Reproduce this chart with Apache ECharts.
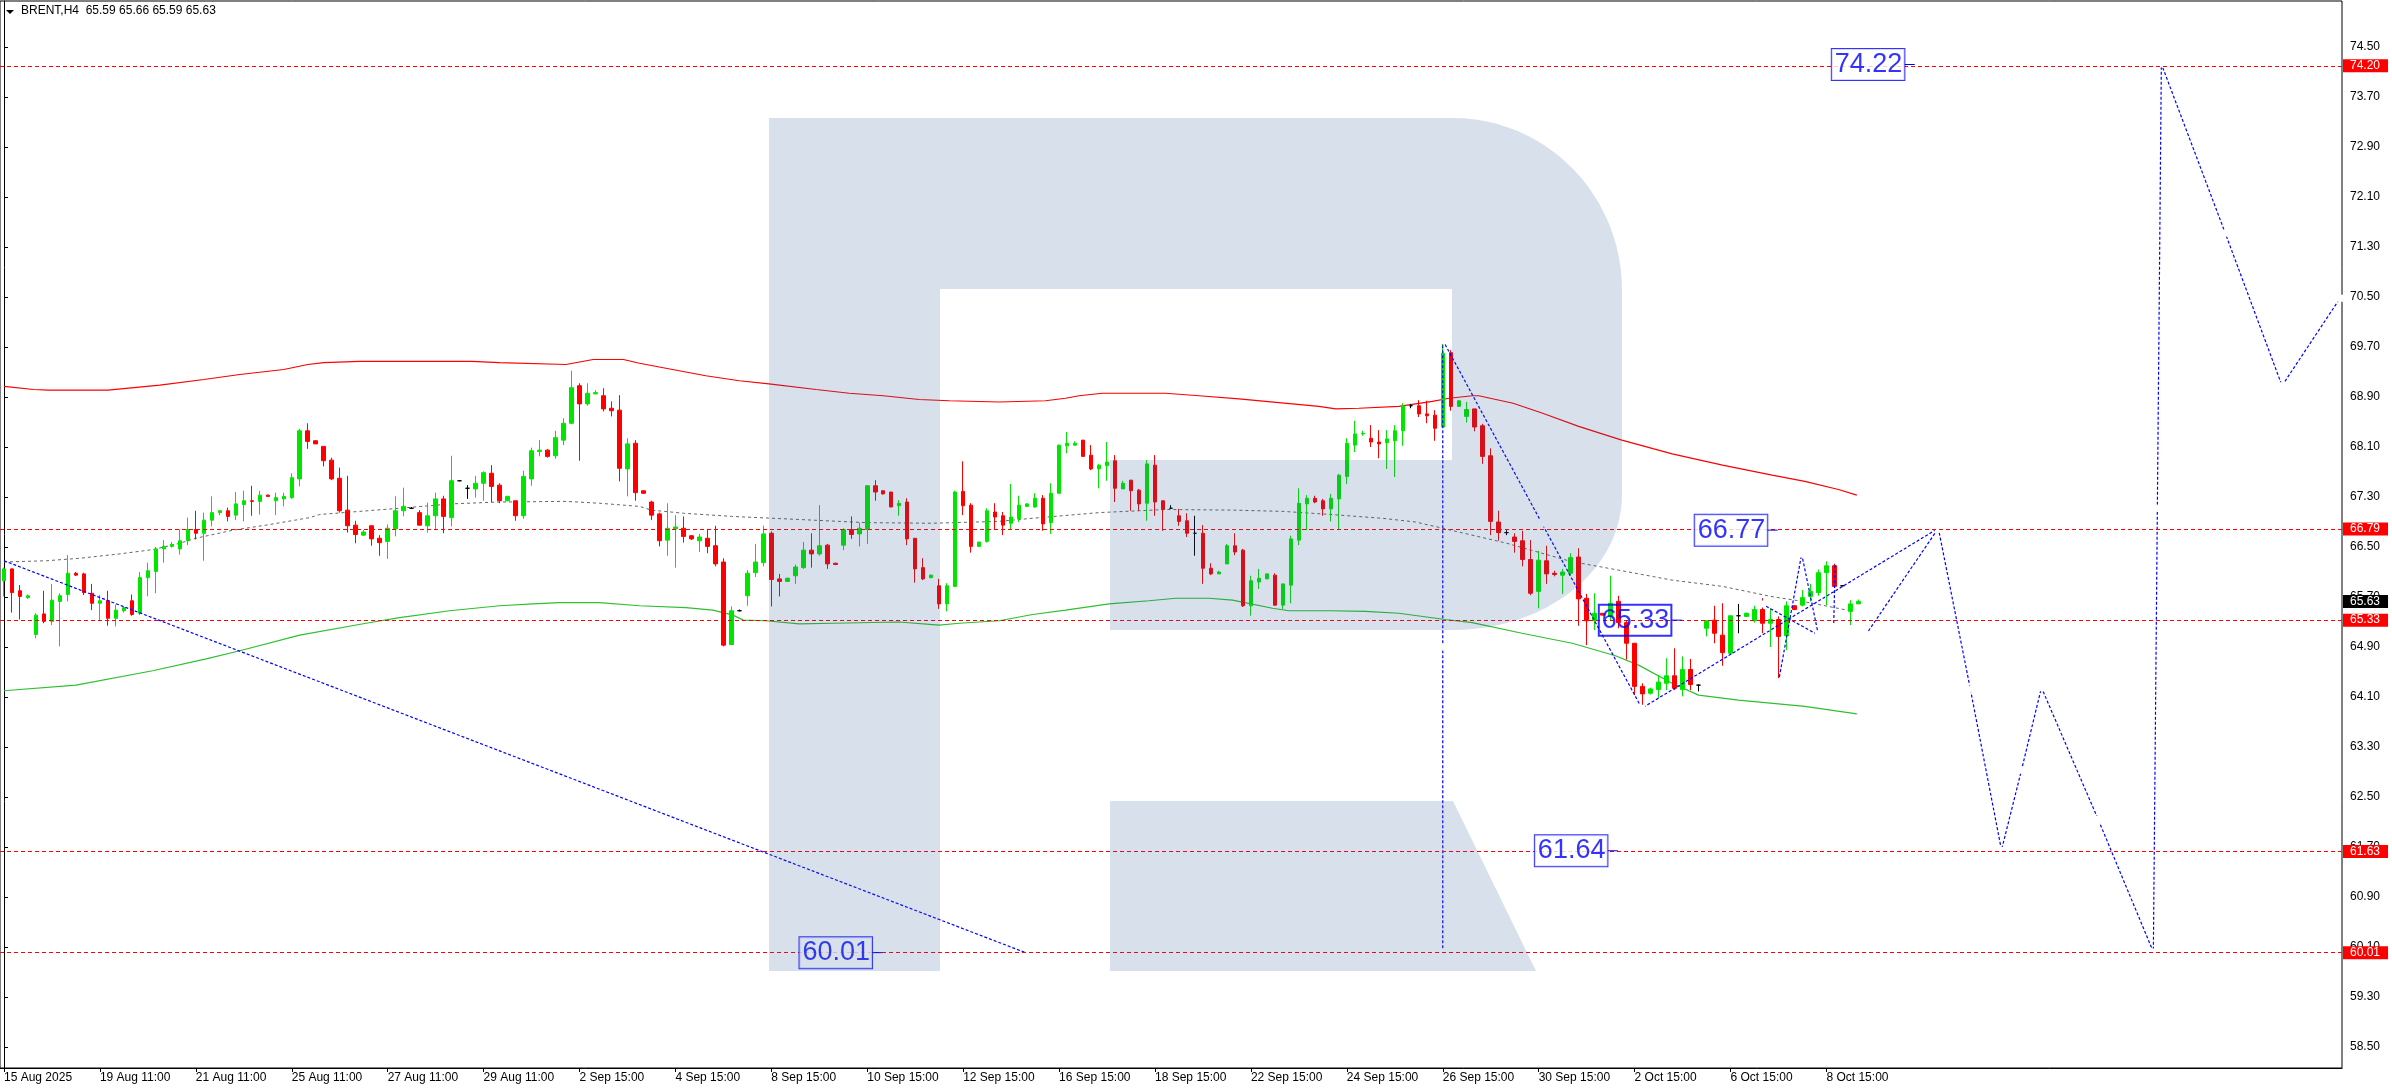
<!DOCTYPE html>
<html><head><meta charset="utf-8">
<script src="https://cdn.jsdelivr.net/npm/echarts@6/dist/echarts.min.js"></script>
<style>html,body{margin:0;padding:0;background:#fff}#c{width:2392px;height:1090px}</style>
</head><body><div id="c"></div>
<script>
// ---------- data ----------
const tickLabels = ["15 Aug 2025","19 Aug 11:00","21 Aug 11:00","25 Aug 11:00","27 Aug 11:00","29 Aug 11:00","2 Sep 15:00","4 Sep 15:00","8 Sep 15:00","10 Sep 15:00","12 Sep 15:00","16 Sep 15:00","18 Sep 15:00","22 Sep 15:00","24 Sep 15:00","26 Sep 15:00","30 Sep 15:00","2 Oct 15:00","6 Oct 15:00","8 Oct 15:00"];
const yTicks = [58.5,59.3,60.1,60.9,61.7,62.5,63.3,64.1,64.9,65.7,66.5,67.3,68.1,68.9,69.7,70.5,71.3,72.1,72.9,73.7,74.5];

const opens = [65.96,66.15,65.80,65.69,65.10,65.43,65.31,65.63,65.74,66.08,66.07,65.76,65.60,65.64,65.36,65.48,65.64,65.44,66.01,66.11,
66.47,66.51,66.47,66.60,66.78,66.72,66.93,67.05,67.08,67.01,67.18,67.24,67.23,67.33,67.24,67.27,67.29,67.59,68.36,68.20,
68.11,67.89,67.60,67.09,66.85,66.69,66.84,66.64,66.59,66.79,67.08,67.12,67.05,66.84,67.00,67.27,66.97,67.56,67.44,67.43,
67.52,67.68,67.49,67.24,67.24,67.00,67.59,68.03,68.05,67.96,68.21,68.48,69.08,68.79,68.95,68.92,68.72,68.69,67.75,68.16,
67.40,67.22,67.03,66.61,66.79,66.80,66.68,66.60,66.64,66.52,66.26,64.94,65.48,65.72,66.09,66.25,66.72,65.99,65.95,66.04,
66.17,66.45,66.39,66.53,66.24,66.53,66.78,66.71,66.78,67.48,67.40,67.38,67.16,67.22,66.64,66.17,66.01,65.88,65.59,65.87,
67.39,67.17,66.51,66.59,67.06,67.00,66.88,66.95,67.15,67.14,67.28,66.89,67.36,68.12,68.13,68.21,67.97,67.75,67.80,67.88,
67.43,67.57,67.41,67.20,67.81,67.24,67.12,67.00,66.92,66.72,66.72,66.16,66.07,66.23,66.52,66.45,65.56,65.94,65.99,66.05,
65.57,65.89,66.61,67.19,67.28,67.24,67.11,67.27,67.63,68.13,68.31,68.24,68.18,68.17,68.20,68.36,68.76,68.76,68.63,68.61,
68.42,69.61,68.75,68.59,68.71,68.44,67.96,66.90,66.73,66.66,66.60,66.30,65.79,66.28,66.08,66.05,66.08,66.34,65.68,65.32,
65.44,65.39,65.63,65.29,64.96,64.27,64.16,64.22,64.32,64.44,64.22,64.54,64.29,65.20,65.33,65.09,64.80,65.40,65.39,65.32,
65.50,65.28,65.34,65.08,65.56,65.57,65.71,65.77,66.09,66.20,65.88,65.47,65.59];
const closes = [66.15,65.77,65.71,65.72,65.41,65.31,65.65,65.72,66.08,66.05,65.77,65.60,65.64,65.36,65.49,65.53,65.42,66.01,66.12,66.47,
66.51,66.54,66.60,66.78,66.72,66.93,67.05,67.08,66.99,67.19,67.24,67.23,67.33,67.31,67.29,67.31,67.61,68.36,68.19,68.15,
67.88,67.59,67.08,66.84,66.70,66.74,66.63,66.57,66.80,67.08,67.15,67.12,66.85,67.00,67.27,66.99,67.56,67.56,67.44,67.52,
67.69,67.47,67.24,67.31,67.00,67.63,68.04,68.05,67.95,68.25,68.48,69.05,68.79,68.96,68.97,68.71,68.68,67.76,68.15,67.37,
67.36,67.01,66.60,66.80,66.82,66.67,66.63,66.66,66.51,66.23,64.93,65.48,65.48,66.08,66.26,66.71,65.98,65.95,66.00,66.18,
66.45,66.39,66.52,66.23,66.22,66.78,66.70,66.80,67.48,67.38,67.35,67.14,67.20,66.63,66.15,65.99,66.05,65.59,65.88,67.38,
67.16,66.51,66.58,67.08,66.98,66.85,66.98,67.17,67.19,67.28,66.87,67.36,68.13,68.16,68.16,67.95,67.75,67.81,67.86,67.44,
67.52,67.40,67.19,67.83,67.22,67.10,67.12,66.91,66.72,66.72,66.16,66.07,66.10,66.52,66.42,65.56,65.96,66.00,66.07,65.57,
65.91,66.63,67.20,67.28,67.22,67.11,67.28,67.65,68.16,68.31,68.32,68.18,68.15,68.23,68.36,68.76,68.76,68.63,68.60,68.40,
69.60,68.75,68.84,68.70,68.42,67.95,66.91,66.73,66.73,66.59,66.30,65.76,66.29,66.07,66.06,66.10,66.33,65.67,65.32,65.44,
65.41,65.60,65.29,64.96,64.27,64.15,64.23,64.34,64.44,64.24,64.54,64.30,64.29,65.32,65.12,64.81,65.40,65.40,65.44,65.50,
65.28,65.34,65.07,65.56,65.50,65.69,65.79,66.09,66.20,65.87,65.88,65.59,65.63];
const lows = [65.71,65.45,65.34,65.67,65.04,65.28,65.25,64.91,65.63,66.04,65.73,65.49,65.32,65.24,65.23,65.45,65.40,65.41,65.71,65.76,
66.25,66.49,66.38,66.53,66.62,66.28,66.83,67.01,66.91,66.93,66.91,67.00,67.02,67.30,67.01,67.15,67.27,67.47,68.07,68.15,
67.79,67.57,67.05,66.73,66.56,66.68,66.52,66.36,66.31,66.67,66.99,67.11,66.84,66.73,66.77,66.72,66.83,67.55,67.27,67.29,
67.24,67.22,67.20,67.23,66.92,66.95,67.48,67.95,67.93,67.91,68.13,68.47,67.88,68.76,68.95,68.67,68.59,67.55,67.31,67.24,
67.35,66.93,66.51,66.36,66.17,66.57,66.61,66.42,66.40,66.19,64.91,64.93,65.47,65.56,66.02,66.19,65.55,65.71,65.94,65.91,
66.15,66.17,66.36,66.15,66.21,66.45,66.63,66.51,66.55,67.24,67.34,67.14,67.00,66.53,65.93,65.97,66.00,65.51,65.47,65.86,
67.01,66.41,66.50,66.57,66.78,66.69,66.78,66.90,67.14,67.13,66.76,66.71,67.35,68.00,68.12,67.95,67.73,67.44,67.56,67.22,
67.43,67.08,67.08,66.92,67.00,66.76,67.11,66.84,66.66,66.36,65.91,66.05,66.07,66.23,66.37,65.54,65.40,65.83,65.99,65.56,
65.51,65.60,66.53,66.77,67.20,67.00,66.91,66.77,67.51,68.02,68.28,68.10,67.92,67.75,67.62,68.12,68.72,68.58,68.48,68.20,
68.41,68.68,68.75,68.49,68.35,67.83,66.69,66.60,66.69,66.41,66.19,65.73,65.52,65.91,66.03,65.75,66.05,65.24,64.93,65.17,
65.41,65.32,65.20,64.70,64.13,63.97,64.14,64.08,64.21,64.21,64.11,64.21,64.19,65.07,64.96,64.60,64.79,65.12,65.38,65.29,
65.12,64.90,64.40,64.85,65.49,65.55,65.63,65.72,65.57,65.86,65.87,65.25,65.59];
const highs = [66.17,66.16,65.89,65.74,65.44,65.80,65.91,65.76,66.37,66.10,66.09,65.91,65.73,65.80,65.58,65.55,65.74,66.10,66.25,66.50,
66.61,66.58,66.78,66.97,67.08,67.05,67.31,67.09,67.13,67.38,67.40,67.48,67.40,67.34,67.37,67.37,67.68,68.39,68.48,68.21,
68.11,67.93,67.77,67.64,66.92,66.77,66.84,66.69,66.86,67.31,67.45,67.14,67.09,67.21,67.37,67.32,67.96,67.57,67.49,67.64,
67.71,67.81,67.52,67.32,67.24,67.72,68.09,68.21,68.07,68.36,68.56,69.32,69.12,69.12,69.01,69.04,68.83,68.93,68.24,68.21,
67.40,67.24,67.05,67.20,67.01,66.99,66.69,66.71,66.79,66.84,66.32,65.55,65.50,66.13,66.55,66.84,66.75,66.07,66.01,66.22,
66.58,66.72,67.17,66.55,66.25,66.80,66.99,66.89,67.49,67.57,67.41,67.38,67.25,67.28,66.64,66.32,66.06,65.99,65.92,67.40,
67.87,67.20,66.58,67.12,67.20,67.06,67.51,67.32,67.20,67.36,67.33,67.52,68.14,68.34,68.19,68.21,68.13,67.83,68.18,67.97,
67.56,67.57,67.43,67.89,67.97,67.24,67.17,67.11,67.04,67.00,66.85,66.24,66.12,66.55,66.72,66.47,66.04,66.15,66.07,66.08,
65.91,66.68,67.44,67.33,67.32,67.27,67.35,67.67,68.24,68.52,68.36,68.45,68.37,68.37,68.45,68.80,68.79,68.85,68.84,68.69,
69.80,69.65,68.84,68.82,68.71,68.47,68.08,67.08,66.77,66.72,66.76,66.61,66.44,66.52,66.12,66.15,66.40,66.48,65.75,65.76,
65.44,66.04,65.72,65.33,64.96,64.32,64.25,64.45,64.72,64.88,64.75,64.71,64.30,65.33,65.56,65.60,65.40,65.59,65.45,65.56,
65.68,65.52,65.39,65.63,65.57,65.81,65.91,66.14,66.27,66.27,65.89,65.65,65.66];

// envelope lines, [bar index, price]
const upperBand = [[0,69.07],[3.7,69.02],[5.5,69.01],[13,69.01],[19.5,69.09],[25,69.18],[29.5,69.26],[35,69.34],[38,69.42],[40,69.45],[44.5,69.47],[58.5,69.47],[62,69.45],[70.3,69.42],[73.7,69.50],[77.5,69.50],[79.5,69.44],[82.8,69.36],[87.8,69.24],[92,69.16],[95.7,69.11],[101.6,69.02],[105.75,68.96],[110,68.92],[114.5,68.86],[118.25,68.84],[124.5,68.82],[130.3,68.84],[132.8,68.88],[134.5,68.92],[137.4,68.96],[145.3,68.96],[149.5,68.92],[154.5,68.87],[159.5,68.81],[164.5,68.75],[166.6,68.71],[169.5,68.72],[174.5,68.75],[178.7,68.83],[180.8,68.88],[183.7,68.92],[184.5,68.92],[188.8,68.80],[192.5,68.64],[197,68.43],[202.4,68.21],[208.7,67.99],[215,67.81],[221.2,67.65],[225.3,67.55],[229.5,67.42],[231.8,67.33]];
const middleBand = [[0,66.26],[5.3,66.28],[9.5,66.32],[14.5,66.39],[18.7,66.46],[22,66.56],[24,66.64],[28.7,66.77],[32.8,66.85],[38.25,66.97],[39.5,67.02],[44.5,67.07],[49.5,67.12],[56,67.19],[62,67.22],[70.3,67.23],[74.5,67.20],[79.5,67.15],[81,67.09],[85,67.04],[91,66.99],[99.5,66.94],[107.8,66.89],[116,66.88],[124.5,66.91],[128.7,66.96],[137,67.05],[145.3,67.10],[153.8,67.09],[160,67.07],[166,67.02],[172.4,66.96],[176.6,66.90],[180,66.80],[188,66.56],[196,66.27],[202,66.13],[208.7,65.97],[215,65.87],[221,65.71],[225,65.63],[231,65.48]];
const lowerBand = [[0,64.20],[9,64.29],[18.6,64.52],[25.3,64.71],[29.5,64.84],[37,65.09],[45.3,65.28],[49.5,65.37],[55.75,65.48],[62,65.56],[66.2,65.59],[69.5,65.61],[74.5,65.61],[79.5,65.56],[85.3,65.53],[88.7,65.49],[91.2,65.41],[92.5,65.33],[95.3,65.32],[99.5,65.27],[103.7,65.28],[112,65.30],[117,65.25],[119.5,65.28],[124.5,65.32],[128.7,65.42],[132.8,65.49],[138.25,65.59],[143.25,65.64],[146.6,65.68],[150.75,65.68],[153.7,65.65],[158.7,65.52],[160.75,65.48],[166,65.48],[170.3,65.47],[174.5,65.44],[180.3,65.34],[183.7,65.29],[189.9,65.12],[196.2,64.96],[201.6,64.76],[204.5,64.61],[208.7,64.32],[212,64.13],[217,64.05],[225.3,63.95],[231.8,63.83]];

// horizontal levels and price tags
const levels = [74.20, 66.79, 65.33, 61.63, 60.01];
const lastPrice = 65.63;

// forecast paths, [bar index, price]
const forecastLong = [[0,66.28],[127.8,60.01]];
const forecastVertical = [[180,69.81],[180,64.90],[180,60.02]];
const forecastMain = [[180,69.81],[192.4,66.88],[204.9,63.92],[242,66.80],[246,64.23],[249.9,61.65],[252.4,62.93],[254.9,64.25],[262,62.14],[268.9,60.02],[269.4,67.12],[269.9,74.23],[277.9,71.52],[285,69.08],[292.25,70.48]];
const forecastAlt = [[232.9,65.09],[242,66.80]];
const forecastZig1 = [[219.9,65.59],[227,65.09]];
const forecastZig2 = [[222,64.34],[224.9,66.39],[227,65.09]];
const forecastZig3 = [[229.1,66.29],[228.9,65.20]];

// annotation boxes: [bar index of box right edge, price, text]
const boxIdx = [237.75, 220.6, 208.6, 200.6, 108.6];
const boxVal = [74.22, 66.77, 65.33, 61.64, 60.01];
const boxText = ["74.22","66.77","65.33","61.64","60.01"];
const boxOpaque = [true, true, false, true, true];

// ---------- chart ----------
const NCAT = 293;
const cats = Array.from({length: NCAT}, (_, i) => String(i));
const candleData = opens.map((o, i) => {
  const d = [o, closes[i], lows[i], highs[i]];
  if (o === closes[i]) return {value: d, itemStyle: {color:'#000', color0:'#000', borderColor:'#000', borderColor0:'#000'}};
  return d;
});
const blue = '#0000ff';
const FONT = 'Liberation Sans';
function fLine(data, marks) {
  return {type:'line', xAxisIndex:1, yAxisIndex:0, data: data, silent:true, z:4,
    symbol: marks ? 'emptyRect' : 'none', symbolSize: 5, showSymbol: !!marks,
    itemStyle:{color:'#fff', borderColor: blue, borderWidth:1},
    lineStyle:{color: blue, width:1.2, type:[3,2]}, animation:false};
}
const series = [];
series.push({
  type:'candlestick', xAxisIndex:0, yAxisIndex:0, data: candleData, barWidth:4, z:3,
  itemStyle:{color:'#00e600', color0:'#ff0000', borderColor:'#00e600', borderColor0:'#ff0000', borderWidth:1},
  animation:false, silent:true,
  markLine:{
    silent:true, symbol:['none','none'], animation:false,
    lineStyle:{color:'#ff0000', width:1, type:[4,3]},
    label:{show:true, position:'end', distance:1, formatter:(p)=>p.value.toFixed(2),
      backgroundColor:'#ff0000', color:'#fff', fontFamily:FONT, fontSize:12, lineHeight:12, padding:[1,8,0,7]},
    data: levels.map(v => ({yAxis:v})).concat([{yAxis:lastPrice, lineStyle:{width:0, color:'rgba(0,0,0,0)'},
      label:{backgroundColor:'#000'}}])
  }
});
series.push({type:'line', xAxisIndex:1, data:upperBand, showSymbol:false, symbol:'none', silent:true, z:2, lineStyle:{color:'#ff0000', width:1.2}, animation:false});
series.push({type:'line', xAxisIndex:1, data:middleBand, showSymbol:false, symbol:'none', silent:true, z:2, lineStyle:{color:'#666', width:1, type:[3,3]}, animation:false});
series.push({type:'line', xAxisIndex:1, data:lowerBand, showSymbol:false, symbol:'none', silent:true, z:2, lineStyle:{color:'#2fbf2f', width:1.2}, animation:false});
series.push(fLine(forecastLong, false));
series.push(fLine(forecastVertical, true));
series.push(fLine(forecastMain, true));
series.push(fLine(forecastAlt, true));
series.push(fLine(forecastZig1, true));
series.push(fLine(forecastZig2, true));
series.push(fLine(forecastZig3, true));
series.push({type:'scatter', xAxisIndex:1, yAxisIndex:0, symbolSize:0, silent:true, z:5, animation:false,
  data: boxIdx.map((x, k) => ({value:[x, boxVal[k]], name: boxText[k],
    label: boxOpaque[k] ? undefined : {backgroundColor:'transparent'}})),
  label:{show:true, position:'left', distance:0, formatter:(p)=>p.name,
    color: blue, fontFamily: FONT, fontSize:27, lineHeight:29,
    backgroundColor:'#ffffff', borderColor: blue, borderWidth:1, padding:[2,2,0,3]}});
boxIdx.forEach((x, k) => {
  series.push({type:'line', xAxisIndex:1, data:[[x, boxVal[k]], [x + 1.3, boxVal[k]]], symbol:'none', silent:true, z:5,
    lineStyle:{color: blue, width:1}, animation:false});
});

// watermark "R" outline (decoration)
function arcPts(cx, cy, rx, ry, a0, a1, n) {
  const out = [];
  for (let k = 0; k <= n; k++) { const a = a0 + (a1 - a0) * k / n; out.push([cx + rx * Math.cos(a), cy + ry * Math.sin(a)]); }
  return out;
}
const bowl = [[940,118],[1453,118]]
  .concat(arcPts(1453, 290, 169, 172, -Math.PI/2, 0, 24))
  .concat(arcPts(1453, 495, 169, 135, 0, Math.PI/2, 24))
  .concat([[1110,630],[1110,460],[1452,460],[1452,289],[940,289]]);
const WM = 'rgba(40,90,150,0.19)';

const option = {
  animation:false,
  backgroundColor:'#ffffff',
  grid:{left:0, right:50, top:1, bottom:22, show:true, borderColor:'#000', borderWidth:1, backgroundColor:'rgba(0,0,0,0)'},
  xAxis:[{
    type:'category', data: cats, boundaryGap:true,
    axisLine:{show:true, lineStyle:{color:'#000', width:1}},
    axisTick:{show:true, alignWithLabel:true, length:4, interval:(i)=> i % 12 === 0 && i <= 228, lineStyle:{color:'#000'}},
    axisLabel:{show:true, interval:(i)=> i % 12 === 0 && i <= 228, align:'left', margin:4,
      formatter:(v, i)=> tickLabels[i / 12] || '', color:'#000', fontFamily:FONT, fontSize:12},
    splitLine:{show:false}
  },{
    type:'value', min:-0.5, max:NCAT - 0.5, show:false
  }],
  yAxis:[{
    type:'value', position:'right', min:58.164, max:75.236,
    axisLine:{show:true, lineStyle:{color:'#000'}},
    axisTick:{show:true, length:4, customValues: yTicks, lineStyle:{color:'#000'}},
    axisLabel:{show:true, customValues: yTicks, margin:8, formatter:(v)=>v.toFixed(2), color:'#000', fontFamily:FONT, fontSize:12},
    splitLine:{show:false}
  }],
  graphic:{elements:[
    {type:'polygon', z:1, silent:true, shape:{points:[[6,10],[14,10],[10,14]]}, style:{fill:'#000'}},
    {type:'text', z:1, silent:true, x:21, y:5, style:{text:'BRENT,H4  65.59 65.66 65.59 65.63', font:'12px "Liberation Sans"', fill:'#000'}},
    {type:'rect', z:100, silent:true, shape:{x:769, y:118, width:171, height:853}, style:{fill:WM}},
    {type:'polygon', z:100, silent:true, shape:{points: bowl}, style:{fill:WM}},
    {type:'polygon', z:100, silent:true, shape:{points:[[1110,801],[1453,801],[1536,971],[1110,971]]}, style:{fill:WM}}
  ]},
  series: series
};
const chart = echarts.init(document.getElementById('c'), null, {renderer:'canvas'});
chart.setOption(option);
</script></body></html>
